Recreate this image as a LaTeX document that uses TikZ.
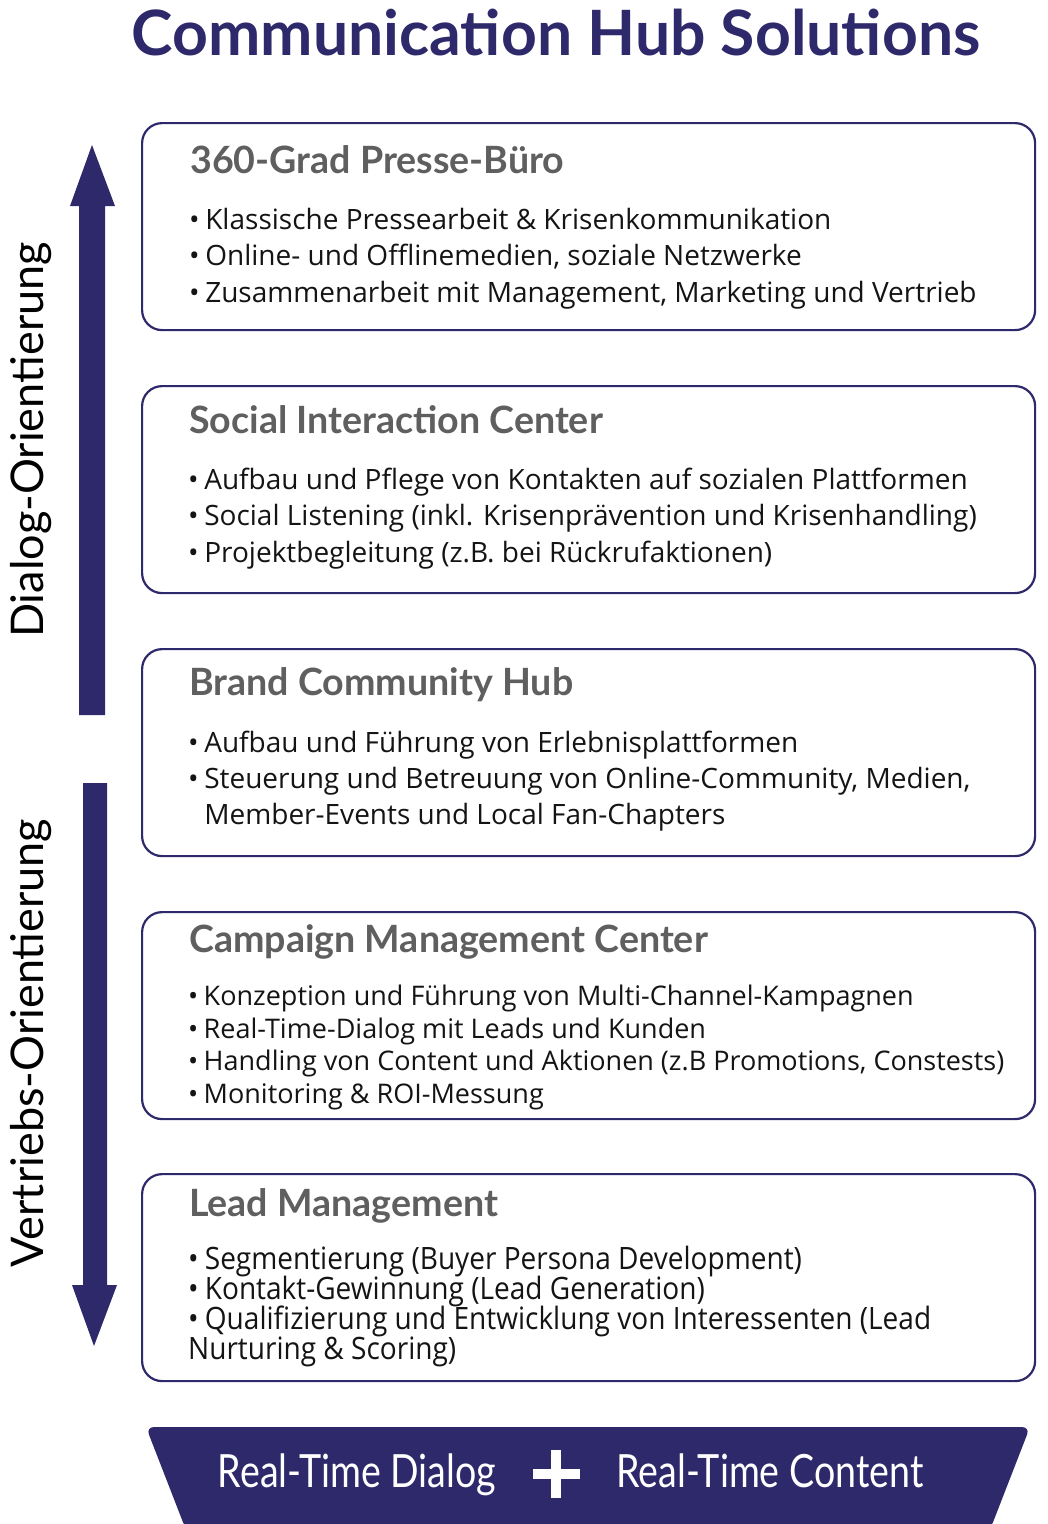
\documentclass[tikz,border=0pt]{standalone}
\usepackage{fontspec}
\usepackage{graphicx}
\setmainfont{Open Sans}
\newfontfamily\latofont{Lato}
\newfontfamily\latonarrow[FakeStretch=0.82]{Lato}
\newfontfamily\opennarrow[FakeStretch=0.91]{Open Sans}
\usetikzlibrary{calc}
\definecolor{hubnavy}{RGB}{46,41,106}
\definecolor{hubgray}{RGB}{95,95,95}
\definecolor{hubink}{RGB}{20,20,20}
\def\bul{\textbullet\hspace{0.2em}}
\def\tightlines{\setlength{\lineskiplimit}{-30pt}\setlength{\lineskip}{0pt}}

\tikzset{
  hubbox/.style={draw=hubnavy, line width=2.2pt, rounded corners=20pt, fill=white,
    minimum width=893pt, minimum height=207pt, anchor=north west, inner sep=0},
  hubhead/.style={anchor=base west, inner sep=0, text=hubgray,
    font=\latofont\bfseries\fontsize{37.6}{44}\selectfont},
  % anchor base = baseline of the last line
  hubtext/.style={anchor=base west, inner sep=0, align=left, text=hubink},
  sidelabel/.style={rotate=90, inner sep=0, anchor=base,
    font=\latofont\fontsize{45}{50}\selectfont},
  bannertext/.style={inner sep=0, anchor=base, text=white,
    font=\latonarrow\fontsize{45.8}{50}\selectfont}
}

\begin{document}
\begin{tikzpicture}[x=1pt, y=-1pt]
			%%%%% START %%%%%
			\useasboundingbox (0, 0) rectangle (1048, 1524);
			
			\node[anchor=base, inner sep=0, text=hubnavy, font=\latofont\bfseries\fontsize{62.5}{70}\selectfont] (title) at (556, 55) {Communication Hub Solutions};
			
			% side arrows
			\fill[hubnavy] (79, 715) -- (79, 206) -- (70, 206) -- (92, 145) -- (115, 206) -- (105, 206) -- (105, 715) -- cycle;
			\fill[hubnavy] (83, 783) -- (83, 1285) -- (72, 1285) -- (94, 1346) -- (117, 1285) -- (107, 1285) -- (107, 783) -- cycle;
			
			\node[sidelabel] (dialog) at (43, 440) {Dialog-Orientierung};
			\node[sidelabel] (vertrieb) at (43, 1043) {Vertriebs-Orientierung};
			
			% boxes
			\node[hubbox] (box1) at (141, 122) {};
			\node[hubhead] (h1) at ($(box1.north west)+(49, 51)$) {360-Grad Presse-Büro};
			\node[hubtext, font=\fontsize{28}{36.5}\selectfont] (t1) at ($(box1.north west)+(48, 180)$) {\bul Klassische Pressearbeit \& Krisenkommunikation\\ \bul Online- und Offlinemedien, soziale Netzwerke\\ \bul Zusammenarbeit mit Management, Marketing und Vertrieb};
			
			\node[hubbox] (box2) at (141, 385) {};
			\node[hubhead] (h2) at ($(box2.north west)+(48, 48)$) {Social Interaction Center};
			\node[hubtext, font=\fontsize{28}{36.5}\selectfont] (t2) at ($(box2.north west)+(47, 177)$) {\bul Aufbau und Pflege von Kontakten auf sozialen Plattformen\\ \bul Social Listening (inkl. Krisenprävention und Krisenhandling)\\ \bul Projektbegleitung (z.B. bei Rückrufaktionen)};
			
			\node[hubbox] (box3) at (141, 648) {};
			\node[hubhead] (h3) at ($(box3.north west)+(48, 47)$) {Brand Community Hub};
			\node[hubtext, font=\fontsize{28}{36}\selectfont] (t3) at ($(box3.north west)+(47, 176)$) {\bul Aufbau und Führung von Erlebnisplattformen\\ \bul Steuerung und Betreuung von Online-Community, Medien,\\ \hphantom{\bul}Member-Events und Local Fan-Chapters};
			
			\node[hubbox] (box4) at (141, 911) {};
			\node[hubhead] (h4) at ($(box4.north west)+(48, 41)$) {Campaign Management Center};
			\node[hubtext, font=\fontsize{27}{32.5}\selectfont] (t4) at ($(box4.north west)+(47, 192)$) {\bul Konzeption und Führung von Multi-Channel-Kampagnen\\ \bul Real-Time-Dialog mit Leads und Kunden\\ \bul Handling von Content und Aktionen (z.B Promotions, Constests)\\ \bul Monitoring \& ROI-Messung};
			
			\node[hubbox] (box5) at (141, 1173) {};
			\node[hubhead] (h5) at ($(box5.north west)+(48, 43)$) {Lead Management};
			\node[hubtext, font={\opennarrow\fontsize{30.8}{30}\selectfont\tightlines}] (t5) at ($(box5.north west)+(47, 186)$) {\bul Segmentierung (Buyer Persona Development)\\ \bul Kontakt-Gewinnung (Lead Generation)\\ \bul Qualifizierung und Entwicklung von Interessenten (Lead\\ Nurturing \& Scoring)};
			
			% banner
			\fill[hubnavy, rounded corners=8pt] (146, 1427) -- (1030, 1427) -- (990, 1530) -- (186, 1530) -- cycle;
			\node[bannertext] (rtd) at (357, 1487) {Real-Time Dialog};
			\node[bannertext] (rtc) at (770, 1487) {Real-Time Content};
			\draw[white, line width=10pt] (533, 1474) -- (580, 1474);
			\draw[white, line width=10pt] (556, 1450) -- (556, 1498);
			
			%%%%% END %%%%%
\end{tikzpicture}
\end{document}
